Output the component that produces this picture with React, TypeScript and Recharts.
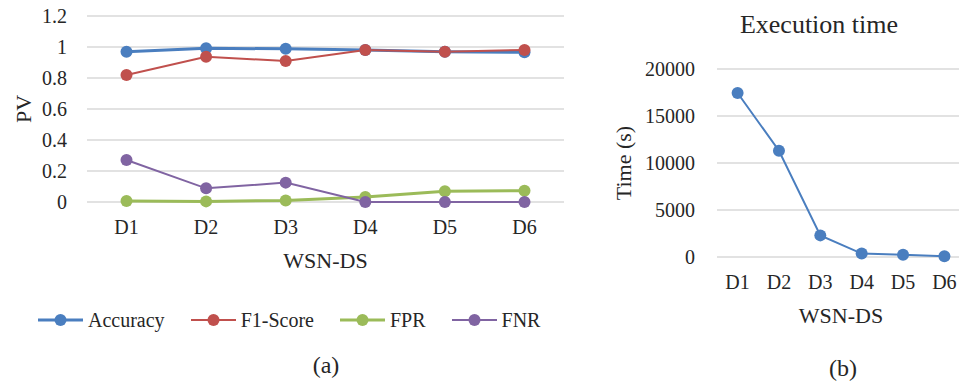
import React from 'react';
import { LineChart, Line, XAxis, YAxis, CartesianGrid, Label } from 'recharts';

const categories = ['D1', 'D2', 'D3', 'D4', 'D5', 'D6'];
const accuracy = [0.97, 0.992, 0.988, 0.981, 0.97, 0.966];
const f1Score = [0.819, 0.937, 0.91, 0.981, 0.97, 0.981];
const fpr = [0.006, 0.004, 0.01, 0.033, 0.07, 0.073];
const fnr = [0.271, 0.088, 0.125, 0, 0, 0];
const execTime = [17450, 11300, 2300, 360, 250, 70];
const pvTicks = [0, 0.2, 0.4, 0.6, 0.8, 1, 1.2];
const timeTicks = [0, 5000, 10000, 15000, 20000];

const FONT = "'Liberation Serif', 'Times New Roman', serif";
const TEXT = '#262626';
const GRID = '#d9d9d9';

const seriesA = [
  { key: 'accuracy', name: 'Accuracy', color: '#4a7ebf', width: 3, values: accuracy },
  { key: 'f1', name: 'F1-Score', color: '#c0504d', width: 2, values: f1Score },
  { key: 'fpr', name: 'FPR', color: '#9bbb59', width: 3, values: fpr },
  { key: 'fnr', name: 'FNR', color: '#8064a2', width: 2, values: fnr },
];

const dataA = categories.map((c, i) => {
  const row: any = { cat: c };
  seriesA.forEach((s) => (row[s.key] = s.values[i]));
  return row;
});
const dataB = categories.map((c, i) => ({ cat: c, time: execTime[i] }));

const tickStyle = { fill: TEXT, fontSize: 20, fontFamily: FONT };

const fmtPV = (v: number) => (v === 0 || v === 1 ? String(v) : v.toFixed(1));

function Legend() {
  return (
    <div
      style={{
        position: 'absolute',
        left: 38,
        top: 308,
        display: 'flex',
        alignItems: 'center',
        gap: 26,
        fontFamily: FONT,
        fontSize: 20,
        color: TEXT,
        whiteSpace: 'nowrap',
      }}
    >
      {seriesA.map((s) => (
        <div key={s.key} style={{ display: 'flex', alignItems: 'center', height: 24 }}>
          <svg width={45} height={14} style={{ display: 'block' }}>
            <line x1={0} y1={7} x2={45} y2={7} stroke={s.color} strokeWidth={s.width} />
            <circle cx={22.5} cy={7} r={6} fill={s.color} />
          </svg>
          <span style={{ marginLeft: 5, lineHeight: '24px' }}>{s.name}</span>
        </div>
      ))}
    </div>
  );
}

const axisTitle = (text: string, dy: number) => (props: any) => {
  const vb = props.viewBox;
  return (
    <text
      x={vb.x + vb.width / 2}
      y={vb.y + dy}
      textAnchor="middle"
      fill={TEXT}
      fontSize={22}
      fontFamily={FONT}
    >
      {text}
    </text>
  );
};

const yTitle = (text: string, cx: number) => (props: any) => {
  const vb = props.viewBox;
  const cy = vb.y + vb.height / 2;
  return (
    <text
      x={cx}
      y={cy + 8}
      transform={`rotate(-90 ${cx} ${cy})`}
      textAnchor="middle"
      fill={TEXT}
      fontSize={22}
      fontFamily={FONT}
    >
      {text}
    </text>
  );
};

export default function App() {
  return (
    <div
      style={{
        position: 'absolute',
        left: 0,
        top: 0,
        width: 959,
        height: 385,
        overflow: 'hidden',
        background: '#fff',
        fontFamily: FONT,
      }}
    >
      <style>{`svg text, svg tspan { font-family: 'Liberation Serif', 'Times New Roman', serif !important; }`}</style>
      <div style={{ position: 'absolute', left: 0, top: 0 }}>
        <LineChart width={580} height={300} data={dataA} margin={{ top: 16, right: 16, left: 0, bottom: 0 }}>
          <CartesianGrid vertical={false} stroke={GRID} strokeWidth={1.5} />
          <XAxis
            dataKey="cat"
            axisLine={false}
            tickLine={false}
            tick={tickStyle}
            tickMargin={12}
            height={98}
            interval={0}
            padding={{ left: 39.5, right: 39.5 }}
          >
            <Label content={axisTitle('WSN-DS', 66)} />
          </XAxis>
          <YAxis
            domain={[0, 1.2]}
            ticks={pvTicks}
            tickFormatter={fmtPV}
            axisLine={false}
            tickLine={false}
            tick={tickStyle}
            tickMargin={14}
            width={87}
            interval={0}
          >
            <Label content={yTitle('PV', 23)} />
          </YAxis>
          {seriesA.map((s) => (
            <Line
              key={s.key}
              dataKey={s.key}
              name={s.name}
              stroke={s.color}
              strokeWidth={s.width}
              dot={{ r: 6, fill: s.color, stroke: s.color, strokeWidth: 0 }}
              activeDot={false}
              isAnimationActive={false}
            />
          ))}
        </LineChart>
      </div>
      <Legend />
      <div
        style={{
          position: 'absolute',
          left: 326,
          top: 365,
          transform: 'translate(-50%, -50%)',
          fontSize: 24,
          color: TEXT,
          fontFamily: FONT,
        }}
      >
        (a)
      </div>

      <div
        style={{
          position: 'absolute',
          left: 819,
          top: 25,
          transform: 'translate(-50%, -50%)',
          fontSize: 26,
          color: TEXT,
          fontFamily: FONT,
          whiteSpace: 'nowrap',
        }}
      >
        Execution time
      </div>
      <div style={{ position: 'absolute', left: 600, top: 0 }}>
        <LineChart width={365} height={360} data={dataB} margin={{ top: 69, right: 0, left: 0, bottom: 0 }}>
          <CartesianGrid vertical={false} stroke={GRID} strokeWidth={1.5} />
          <XAxis
            dataKey="cat"
            axisLine={false}
            tickLine={false}
            tick={tickStyle}
            tickMargin={12}
            height={103}
            interval={0}
            padding={{ left: 20.6, right: 20.6 }}
          >
            <Label content={axisTitle('WSN-DS', 66)} />
          </XAxis>
          <YAxis
            domain={[0, 20000]}
            ticks={timeTicks}
            axisLine={false}
            tickLine={false}
            tick={tickStyle}
            tickMargin={16}
            width={117}
            interval={0}
          >
            <Label content={yTitle('Time (s)', 23)} />
          </YAxis>
          <Line
            dataKey="time"
            name="Execution time"
            stroke="#4a7ebf"
            strokeWidth={2}
            dot={{ r: 6, fill: '#4a7ebf', stroke: '#4a7ebf', strokeWidth: 0 }}
            activeDot={false}
            isAnimationActive={false}
          />
        </LineChart>
      </div>
      <div
        style={{
          position: 'absolute',
          left: 843,
          top: 368,
          transform: 'translate(-50%, -50%)',
          fontSize: 24,
          color: TEXT,
          fontFamily: FONT,
        }}
      >
        (b)
      </div>
    </div>
  );
}
